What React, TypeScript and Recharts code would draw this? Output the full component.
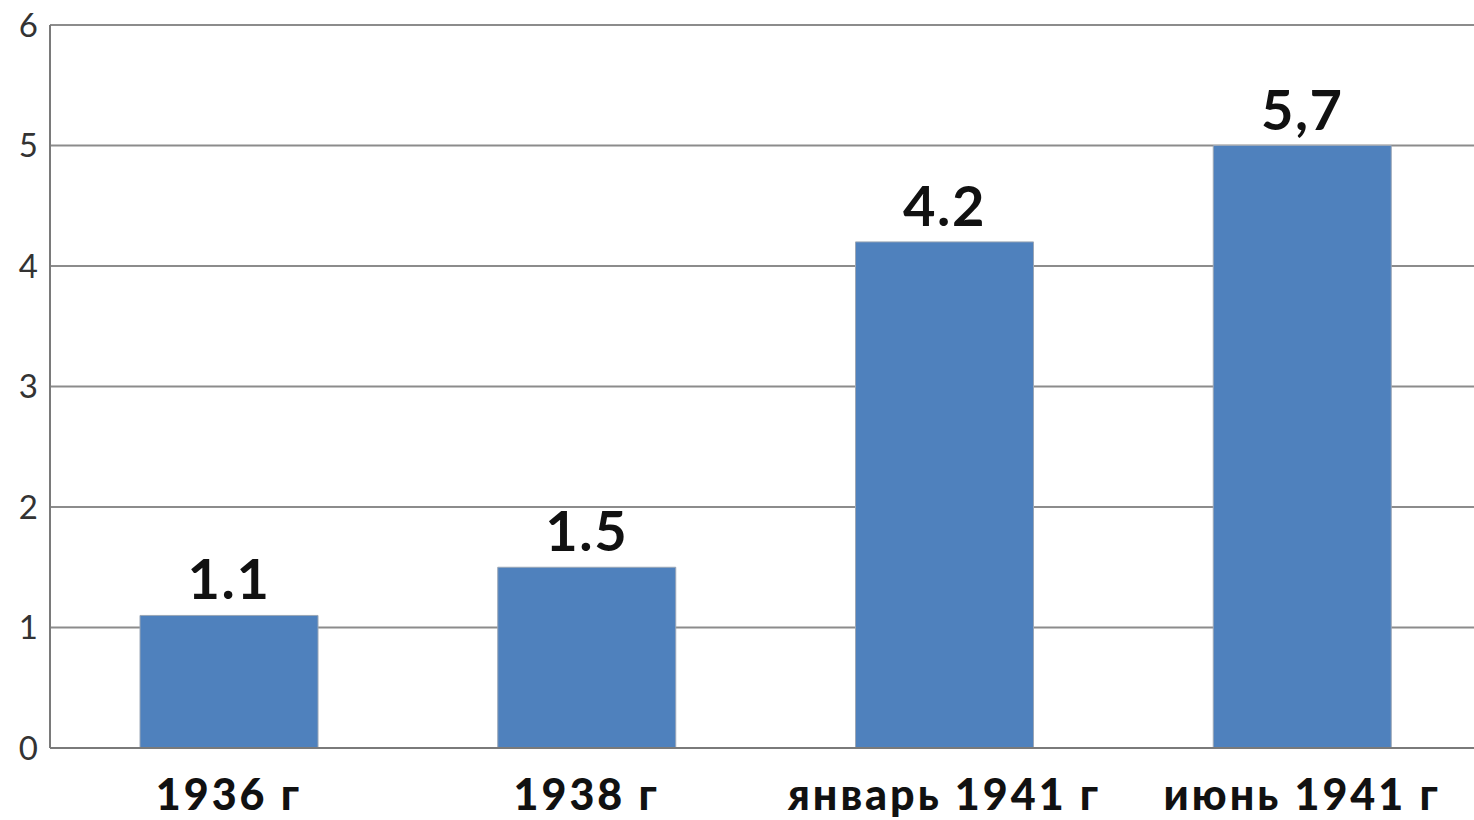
import React from 'react';
import { BarChart, Bar, XAxis, YAxis, CartesianGrid, LabelList } from 'recharts';

const categories = ['1936 г', '1938 г', 'январь 1941 г', 'июнь 1941 г'];
const values = [1.1, 1.5, 4.2, 5];
const valueLabels = ['1.1', '1.5', '4.2', '5,7'];
const yTicks = [0, 1, 2, 3, 4, 5, 6];

const data = categories.map((name, i) => ({
  name,
  value: values[i],
  label: valueLabels[i],
}));

const FONT = 'Lato, "Open Sans", sans-serif';

export default function App() {
  return (
    <div
      style={{
        position: 'absolute',
        left: 0,
        top: 0,
        width: 1474,
        height: 820,
        overflow: 'hidden',
        background: '#fff',
      }}
    >
      <BarChart
        width={1481}
        height={820}
        data={data}
        margin={{ top: 25, right: 0, bottom: 0, left: 0 }}
        barSize={178}
      >
        <CartesianGrid horizontal vertical={false} stroke="#8c8c8c" strokeWidth={2} />
        <XAxis
          dataKey="name"
          height={72}
          tickLine={false}
          tickSize={0}
          tickMargin={31}
          axisLine={{ stroke: '#7a7a7a', strokeWidth: 2 }}
          tick={{ fill: '#111', fontSize: 43, fontWeight: 900, fontFamily: FONT, letterSpacing: 3 }}
          interval={0}
        />
        <YAxis
          width={50}
          domain={[0, 6]}
          ticks={yTicks}
          interval={0}
          tickLine={false}
          tickSize={0}
          tickMargin={12}
          axisLine={{ stroke: '#7a7a7a', strokeWidth: 2 }}
          tick={{ fill: '#333', fontSize: 33, fontFamily: FONT }}
        />
        <Bar dataKey="value" fill="#4f81bd" stroke="#9aa6b6" strokeWidth={1} isAnimationActive={false}>
          <LabelList
            dataKey="label"
            position="top"
            offset={16}
            style={{ fill: '#111', fontSize: 56, fontWeight: 700, fontFamily: FONT, letterSpacing: 1.5 }}
          />
        </Bar>
      </BarChart>
    </div>
  );
}
